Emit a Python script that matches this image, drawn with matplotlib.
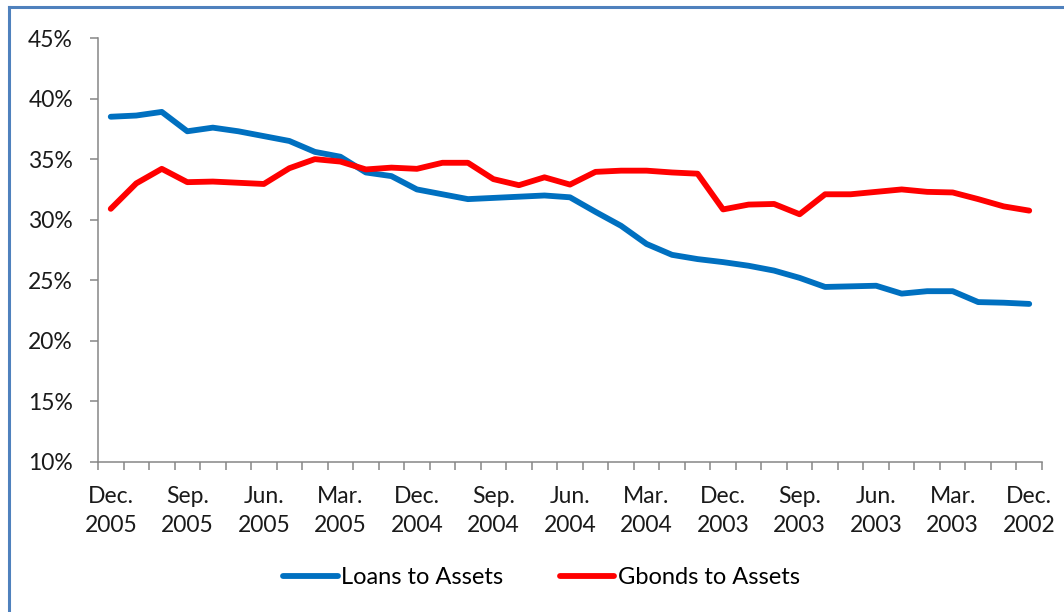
import numpy as np
import matplotlib
matplotlib.use("Agg")
import matplotlib.pyplot as plt
from matplotlib.lines import Line2D

plt.rcParams["font.family"] = ["Lato", "DejaVu Sans"]

# monthly ratios, Dec. 2005 back to Dec. 2002 (percent)
loans_to_assets = [38.5, 38.6, 38.9, 37.3, 37.6, 37.3, 36.9, 36.5, 35.6, 35.2,
                   33.9, 33.6, 32.5, 32.1, 31.7, 31.8, 31.9, 32.0, 31.85, 30.65,
                   29.5, 28.0, 27.1, 26.75, 26.5, 26.2, 25.8, 25.2, 24.45, 24.5,
                   24.55, 23.9, 24.1, 24.1, 23.2, 23.15, 23.05]
gbonds_to_assets = [30.9, 33.0, 34.2, 33.1, 33.15, 33.05, 32.95, 34.25, 35.0, 34.8,
                    34.15, 34.3, 34.2, 34.7, 34.7, 33.35, 32.85, 33.5, 32.9, 33.95,
                    34.05, 34.05, 33.9, 33.8, 30.85, 31.25, 31.3, 30.45, 32.1, 32.1,
                    32.3, 32.5, 32.3, 32.25, 31.7, 31.1, 30.75]
quarter_labels = ["Dec.\n2005", "Sep.\n2005", "Jun.\n2005", "Mar.\n2005",
                  "Dec.\n2004", "Sep.\n2004", "Jun.\n2004", "Mar.\n2004",
                  "Dec.\n2003", "Sep.\n2003", "Jun.\n2003", "Mar.\n2003",
                  "Dec.\n2002"]

n = len(loans_to_assets)
x = np.arange(n)
axis_grey = "#868686"
text_size = 16.5

fig = plt.figure(figsize=(10.64, 6.12), dpi=100)
ax = fig.add_axes([0.0921, 0.2451, 0.8872, 0.6928])

ax.plot(x, loans_to_assets, color="#0070C0", lw=4.2, solid_capstyle="round",
        solid_joinstyle="round", label="Loans to Assets")
ax.plot(x, gbonds_to_assets, color="#FF0000", lw=4.2, solid_capstyle="round",
        solid_joinstyle="round", label="Gbonds to Assets")

ax.set_xlim(-0.5, n - 0.5)
ax.set_ylim(10, 45)
ax.set_yticks(np.arange(10, 46, 5))
ax.set_yticklabels([f"{v}%" for v in range(10, 46, 5)], fontsize=text_size,
                   color="#1a1a1a")

# tick marks sit between categories, labels every third month
ax.set_xticks(np.arange(-0.5, n, 1.0))
ax.set_xticklabels([])
ax.set_xticks(x[::3], minor=True)
ax.set_xticklabels(quarter_labels, minor=True, fontsize=text_size, color="#1a1a1a",
                   linespacing=1.5)
ax.tick_params(axis="x", which="major", length=6, width=1.1, color=axis_grey)
ax.tick_params(axis="x", which="minor", length=0, pad=17)
ax.tick_params(axis="y", length=6, width=1.1, color=axis_grey, pad=12)

for side in ("top", "right"):
    ax.spines[side].set_visible(False)
for side in ("left", "bottom"):
    ax.spines[side].set_color(axis_grey)
    ax.spines[side].set_linewidth(1.1)

fig.legend(loc="center", bbox_to_anchor=(0.509, 0.056), ncol=2, frameon=False,
           fontsize=17, handlelength=2.3, handletextpad=0.15, columnspacing=2.4)

# frame lines along the left and top of the chart area
fig.add_artist(Line2D([0.0080, 0.0080], [0.0, 0.988], color="#4F81BD", lw=2.2))
fig.add_artist(Line2D([0.0080, 1.0], [0.988, 0.988], color="#4F81BD", lw=2.2))

fig.savefig("out.png", dpi=100)
